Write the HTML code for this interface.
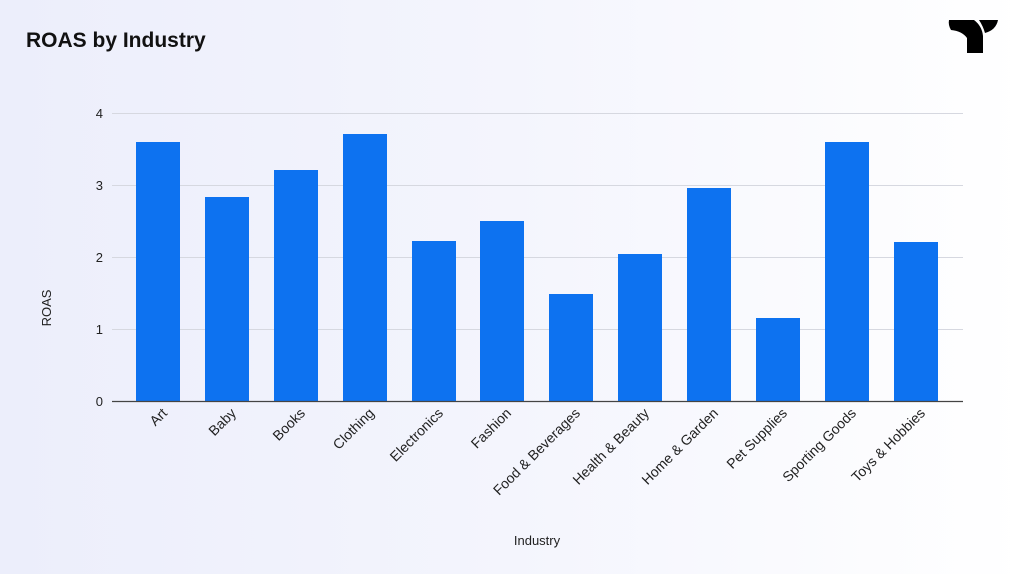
<!DOCTYPE html>
<html><head><style>
body{margin:0;width:1024px;height:574px;overflow:hidden;font-family:"Liberation Sans",sans-serif;background:linear-gradient(90deg,#eceefb 0%,#f4f5fd 50%,#ffffff 100%);}
</style></head><body>
<svg width="1024" height="574" xmlns="http://www.w3.org/2000/svg" style="position:absolute;left:0;top:0">
<text x="26" y="47" font-size="21" font-weight="bold" fill="#111">ROAS by Industry</text>
<g fill="#000">
<path d="M949 20 L974 20 Q982 26 983 36 L983 53 L967 53 L967 38 Q962 31 951 30 Q948 25 949 20 Z"/>
<path d="M979 20 L998 20 Q996 30 985 33 Q983 26 979 20 Z"/>
</g>
<g stroke="#d6d8e0" stroke-width="1">
<line x1="112" y1="113.5" x2="963" y2="113.5"/>
<line x1="112" y1="185.5" x2="963" y2="185.5"/>
<line x1="112" y1="257.5" x2="963" y2="257.5"/>
<line x1="112" y1="329.5" x2="963" y2="329.5"/>
</g>
<g font-size="13" fill="#222" text-anchor="end">
<text x="103" y="118">4</text><text x="103" y="190">3</text><text x="103" y="262">2</text><text x="103" y="334">1</text><text x="103" y="406">0</text>
</g>
<g fill="#0d72f0">
<rect x="136" y="142" width="44" height="259"/>
<rect x="205" y="197" width="44" height="204"/>
<rect x="274" y="170" width="44" height="231"/>
<rect x="343" y="134" width="44" height="267"/>
<rect x="412" y="241" width="44" height="160"/>
<rect x="480" y="221" width="44" height="180"/>
<rect x="549" y="294" width="44" height="107"/>
<rect x="618" y="254" width="44" height="147"/>
<rect x="687" y="188" width="44" height="213"/>
<rect x="756" y="318" width="44" height="83"/>
<rect x="825" y="142" width="44" height="259"/>
<rect x="894" y="242" width="44" height="159"/>
</g>
<line x1="112" y1="401.5" x2="963" y2="401.5" stroke="#444" stroke-width="1.2"/>
<g font-size="14" fill="#222" text-anchor="end">
<text transform="translate(168,414) rotate(-45)">Art</text>
<text transform="translate(237,414) rotate(-45)">Baby</text>
<text transform="translate(306,414) rotate(-45)">Books</text>
<text transform="translate(375,414) rotate(-45)">Clothing</text>
<text transform="translate(444,414) rotate(-45)">Electronics</text>
<text transform="translate(512,414) rotate(-45)">Fashion</text>
<text transform="translate(581,414) rotate(-45)">Food &amp; Beverages</text>
<text transform="translate(650,414) rotate(-45)">Health &amp; Beauty</text>
<text transform="translate(719,414) rotate(-45)">Home &amp; Garden</text>
<text transform="translate(788,414) rotate(-45)">Pet Supplies</text>
<text transform="translate(857,414) rotate(-45)">Sporting Goods</text>
<text transform="translate(926,414) rotate(-45)">Toys &amp; Hobbies</text>
</g>
<text x="537" y="545" font-size="13" fill="#222" text-anchor="middle">Industry</text>
<text transform="translate(51,308) rotate(-90)" font-size="13" fill="#222" text-anchor="middle">ROAS</text>
</svg>
</body></html>
